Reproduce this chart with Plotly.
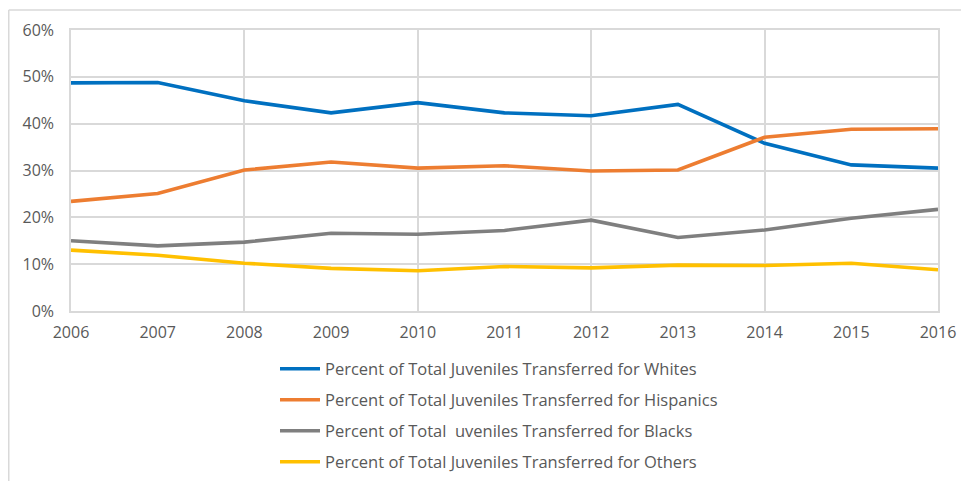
import plotly.graph_objects as go

years = [2006, 2007, 2008, 2009, 2010, 2011, 2012, 2013, 2014, 2015, 2016]
whites = [48.7, 48.8, 44.9, 42.3, 44.5, 42.3, 41.7, 44.1, 35.8, 31.2, 30.5]
hispanics = [23.4, 25.1, 30.1, 31.8, 30.5, 31.0, 29.9, 30.1, 37.1, 38.8, 38.9]
blacks = [15.0, 13.9, 14.7, 16.6, 16.4, 17.2, 19.4, 15.7, 17.3, 19.8, 21.7]
others = [13.0, 11.9, 10.2, 9.1, 8.6, 9.5, 9.2, 9.8, 9.7, 10.2, 8.8]

names = [
    "Percent of Total Juveniles Transferred for Whites",
    "Percent of Total Juveniles Transferred for Hispanics",
    "Percent of Total&nbsp; uveniles Transferred for Blacks",
    "Percent of Total Juveniles Transferred for Others",
]
colors = ["#0070C0", "#ED7D31", "#7F7F7F", "#FFC000"]
series = [whites, hispanics, blacks, others]

FONT = "Open Sans"
TXT = "#595959"
GRID = "#D9D9D9"
FS = 16
LFS = 16.5

# page has an 8px body margin; figure coordinates are page minus 8
W, H = 961, 473
L, R, T, B = 63, 31, 22, 170
pw = W - L - R
ph = H - T - B

legend_ids = ["legend", "legend2", "legend3", "legend4"]
legend_rows = [361, 392, 423, 454]  # row centres in figure pixels

fig = go.Figure()
for nm, col, vals, lid in zip(names, colors, series, legend_ids):
    fig.add_trace(go.Scatter(
        x=years, y=[v / 100 for v in vals], mode="lines", name=nm,
        line=dict(color=col, width=3.6), legend=lid,
    ))

# invisible trace on overlay axis for 2-year vertical grid
fig.add_trace(go.Scatter(x=years, y=[None] * len(years), xaxis="x2",
                         showlegend=False, hoverinfo="skip"))

legend_cfg = {}
for lid, yc in zip(legend_ids, legend_rows):
    legend_cfg[lid] = dict(
        xref="container", yref="container",
        x=267 / W, y=1 - yc / H, xanchor="left",
        yanchor="middle", orientation="v",
        font=dict(size=LFS, color=TXT, family=FONT),
        bgcolor="rgba(0,0,0,0)", itemwidth=40, borderwidth=0,
    )

fig.update_layout(
    width=W, height=H,
    margin=dict(l=L, r=R, t=T, b=B, autoexpand=False),
    paper_bgcolor="white", plot_bgcolor="white",
    font=dict(family=FONT, color=TXT, size=FS),
    xaxis=dict(range=[2006, 2016], tickmode="array", tickvals=years,
               ticktext=[str(y) for y in years], showgrid=False,
               showline=True, linecolor=GRID, linewidth=1.5, mirror=True,
               ticks="outside", ticklen=6, tickcolor="rgba(0,0,0,0)",
               tickfont=dict(size=FS, color=TXT, family=FONT), zeroline=False),
    xaxis2=dict(range=[2006, 2016], overlaying="x", tickmode="linear",
                tick0=2006, dtick=2, showgrid=True, gridcolor=GRID,
                gridwidth=1.5, showticklabels=False, zeroline=False,
                showline=False),
    yaxis=dict(range=[0, 0.6], tickmode="linear", tick0=0, dtick=0.1,
               tickformat=".0%", showgrid=True, gridcolor=GRID, gridwidth=1.5,
               showline=True, linecolor=GRID, linewidth=1.5, mirror=True,
               ticks="outside", ticklen=12, tickcolor="rgba(0,0,0,0)",
               tickfont=dict(size=FS, color=TXT, family=FONT), zeroline=False),
    showlegend=True,
    **legend_cfg,
)

# outer chart frame (left and top edges)
fx0 = (0.75 - L) / pw
fy_top = 1 + (T - 2) / ph
fy_bot = -(B + 5) / ph
fx1 = 1 + (R + 5) / pw
fig.add_shape(type="line", xref="paper", yref="paper", x0=fx0, x1=fx0,
              y0=fy_bot, y1=fy_top, line=dict(color=GRID, width=1.5))
fig.add_shape(type="line", xref="paper", yref="paper", x0=fx0, x1=fx1,
              y0=fy_top, y1=fy_top, line=dict(color=GRID, width=1.5))

fig.write_html("out.html")
